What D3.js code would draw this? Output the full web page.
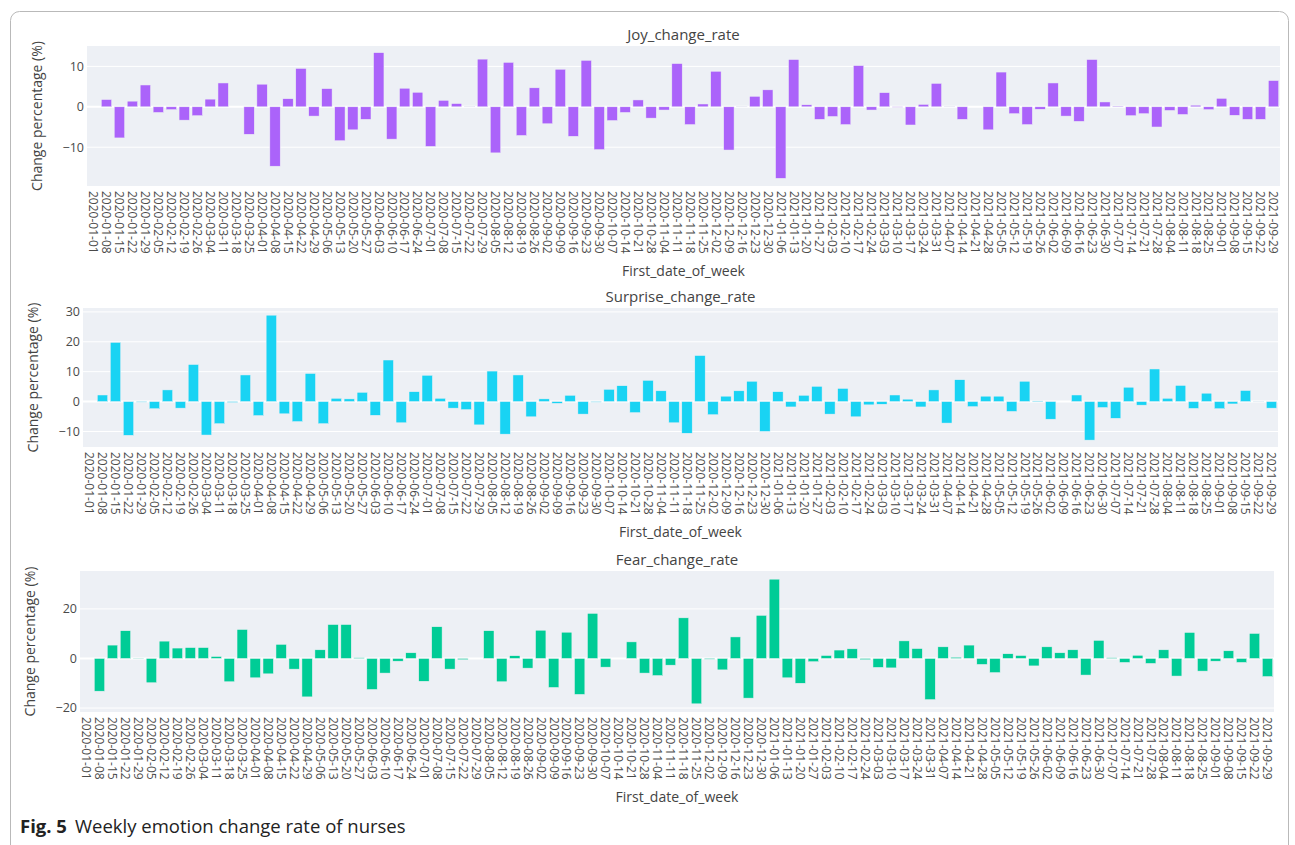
<!DOCTYPE html>
<html>
<head>
<meta charset="utf-8">
<script src="https://cdn.jsdelivr.net/npm/d3@7"></script>
<style>
  body { margin: 0; background: #fff; }
  text { font-family: "Open Sans", "Noto Sans", sans-serif; }
</style>
</head>
<body>
<svg id="chart" width="1295" height="845"></svg>
<script>
// weekly categories (first date of each week)
const weeks = [
  "2020-01-01","2020-01-08","2020-01-15","2020-01-22","2020-01-29","2020-02-05","2020-02-12","2020-02-19",
  "2020-02-26","2020-03-04","2020-03-11","2020-03-18","2020-03-25","2020-04-01","2020-04-08","2020-04-15",
  "2020-04-22","2020-04-29","2020-05-06","2020-05-13","2020-05-20","2020-05-27","2020-06-03","2020-06-10",
  "2020-06-17","2020-06-24","2020-07-01","2020-07-08","2020-07-15","2020-07-22","2020-07-29","2020-08-05",
  "2020-08-12","2020-08-19","2020-08-26","2020-09-02","2020-09-09","2020-09-16","2020-09-23","2020-09-30",
  "2020-10-07","2020-10-14","2020-10-21","2020-10-28","2020-11-04","2020-11-11","2020-11-18","2020-11-25",
  "2020-12-02","2020-12-09","2020-12-16","2020-12-23","2020-12-30","2021-01-06","2021-01-13","2021-01-20",
  "2021-01-27","2021-02-03","2021-02-10","2021-02-17","2021-02-24","2021-03-03","2021-03-10","2021-03-17",
  "2021-03-24","2021-03-31","2021-04-07","2021-04-14","2021-04-21","2021-04-28","2021-05-05","2021-05-12",
  "2021-05-19","2021-05-26","2021-06-02","2021-06-09","2021-06-16","2021-06-23","2021-06-30","2021-07-07",
  "2021-07-14","2021-07-21","2021-07-28","2021-08-04","2021-08-11","2021-08-18","2021-08-25","2021-09-01",
  "2021-09-08","2021-09-15","2021-09-22","2021-09-29"
];

const joy = [
  0, 1.8, -7.7, 1.4, 5.4, -1.4, -0.7, -3.3, -2.2, 1.9,
  5.9, 0, -6.8, 5.6, -14.7, 2.0, 9.5, -2.3, 4.5, -8.4,
  -5.7, -3.1, 13.4, -8.0, 4.6, 3.6, -9.8, 1.6, 0.8, 0.1,
  11.8, -11.4, 11.0, -7.1, 4.7, -4.2, 9.3, -7.3, 11.5, -10.6,
  -3.4, -1.4, 1.7, -2.8, -0.8, 10.7, -4.4, 0.7, 8.8, -10.7,
  0.1, 2.6, 4.2, -17.7, 11.7, 0.5, -3.1, -2.4, -4.4, 10.2,
  -0.8, 3.5, -0.1, -4.5, 0.6, 5.8, 0.1, -3.1, 0, -5.7,
  8.6, -1.7, -4.4, -0.6, 5.9, -2.3, -3.6, 11.7, 1.2, 0.2,
  -2.2, -1.7, -5.0, -0.9, -1.9, 0.4, -0.7, 2.1, -2.1, -3.1,
  -3.1, 6.5
];

const surprise = [
  0, 2.2, 19.8, -11.3, -0.2, -2.4, 3.9, -2.2, 12.4, -11.2,
  -7.4, -0.3, 8.9, -4.7, 28.9, -4.1, -6.7, 9.4, -7.4, 1.1,
  0.9, 3.1, -4.6, 13.9, -7.1, 3.3, 8.8, 1.1, -2.2, -2.7,
  -7.8, 10.2, -10.9, 8.9, -5.1, 0.9, -0.6, 2.1, -4.2, -0.2,
  4.1, 5.3, -3.7, 7.1, 3.6, -7.1, -10.6, 15.4, -4.4, 1.8,
  3.6, 6.8, -10.0, 3.3, -1.8, 2.1, 5.1, -4.2, 4.4, -5.1,
  -1.1, -0.9, 2.2, 0.8, -1.8, 3.9, -7.2, 7.3, -1.7, 1.8,
  1.8, -3.3, 6.8, 0.2, -5.9, 0, 2.2, -12.9, -2.0, -5.6,
  4.8, -1.2, 10.9, 1.1, 5.4, -2.3, 2.8, -2.4, -0.8, 3.7,
  -0.1, -2.2
];

const fear = [
  0, -13.2, 5.4, 11.2, 0.1, -9.8, 7.0, 4.2, 4.4, 4.4,
  0.8, -9.4, 11.7, -7.8, -6.2, 5.7, -4.3, -15.5, 3.5, 13.7,
  13.7, 0.3, -12.5, -5.9, -1.1, 2.3, -9.2, 12.8, -4.3, -0.5,
  0, 11.2, -9.4, 1.1, -3.9, 11.4, -11.7, 10.6, -14.5, 18.2,
  -3.5, 0, 6.7, -5.9, -6.9, -2.7, 16.4, -18.3, -0.3, -4.6,
  8.7, -16.0, 17.4, 32.0, -7.8, -10.0, -1.3, 1.2, 3.4, 3.9,
  -0.5, -3.6, -3.8, 7.1, 4.0, -16.6, 4.7, 0.5, 5.4, -2.4,
  -5.7, 1.9, 1.2, -3.0, 4.7, 2.3, 3.5, -6.7, 7.3, 0.3,
  -1.6, 1.3, -2.0, 3.5, -7.1, 10.5, -5.1, -1.1, 3.1, -1.6,
  10.1, -7.3
];

const joyTicks = [-10, 0, 10];
const surpriseTicks = [-10, 0, 10, 20, 30];
const fearTicks = [-20, 0, 20];

const plotBg = "#edf0f5";

const svg = d3.select("#chart");

// outer frame of the figure
svg.append("rect")
  .attr("x", 10.5).attr("y", 11.5)
  .attr("width", 1278).attr("height", 860)
  .attr("rx", 9)
  .attr("fill", "none")
  .attr("stroke", "#b9b9b9");

const panels = [
  { title: "Joy_change_rate", values: joy, ticks: joyTicks, color: "#AB63FA",
    left: 87, right: 1280, top: 46, bottom: 186, domain: [-19.6, 15.05], titleY: 40 },
  { title: "Surprise_change_rate", values: surprise, ticks: surpriseTicks, color: "#19D3F3",
    left: 83, right: 1278, top: 308, bottom: 447, domain: [-15.2, 31.3], titleY: 302 },
  { title: "Fear_change_rate", values: fear, ticks: fearTicks, color: "#00CC96",
    left: 80, right: 1274, top: 571, bottom: 712, domain: [-21.6, 35.3], titleY: 565 }
];

panels.forEach(drawPanel);

function drawPanel(p) {
  const x = d3.scaleBand()
    .domain(weeks)
    .range([p.left, p.right])
    .paddingInner(0.2)
    .paddingOuter(0.1);

  const y = d3.scaleLinear()
    .domain(p.domain)
    .range([p.bottom, p.top]);

  const g = svg.append("g");

  g.append("rect")
    .attr("x", p.left).attr("y", p.top)
    .attr("width", p.right - p.left).attr("height", p.bottom - p.top)
    .attr("fill", plotBg);

  // gridlines
  g.append("g")
    .selectAll("line")
    .data(p.ticks)
    .join("line")
    .attr("x1", p.left).attr("x2", p.right)
    .attr("y1", d => y(d)).attr("y2", d => y(d))
    .attr("stroke", "#fff")
    .attr("stroke-width", d => d === 0 ? 2 : 1);

  // bars
  g.append("g")
    .selectAll("rect")
    .data(p.values)
    .join("rect")
    .attr("x", (d, i) => x(weeks[i]))
    .attr("width", x.bandwidth())
    .attr("y", d => y(Math.max(0, d)))
    .attr("height", d => Math.abs(y(d) - y(0)))
    .attr("fill", p.color)
    .attr("stroke", plotBg)
    .attr("stroke-width", 0.5);

  // y tick labels
  g.append("g")
    .attr("font-size", 12.5)
    .attr("fill", "#4a4a4a")
    .attr("text-anchor", "end")
    .selectAll("text")
    .data(p.ticks)
    .join("text")
    .attr("x", p.left - 3)
    .attr("y", d => y(d))
    .attr("dy", "0.35em")
    .text(d => d < 0 ? "\u2212" + Math.abs(d) : d);

  // x tick labels, rotated
  g.append("g")
    .attr("font-size", 12)
    .attr("fill", "#4a4a4a")
    .selectAll("text")
    .data(weeks)
    .join("text")
    .attr("transform", d => `translate(${x(d) + x.bandwidth() / 2},${p.bottom + 5}) rotate(90)`)
    .attr("dy", "0.35em")
    .text(d => d);

  // titles
  const cx = (p.left + p.right) / 2;
  g.append("text")
    .attr("x", cx).attr("y", p.titleY)
    .attr("text-anchor", "middle")
    .attr("font-size", 15)
    .attr("fill", "#444")
    .text(p.title);

  g.append("text")
    .attr("x", cx).attr("y", p.bottom + 90)
    .attr("text-anchor", "middle")
    .attr("font-size", 14)
    .attr("fill", "#444")
    .text("First_date_of_week");

  g.append("text")
    .attr("transform", `translate(${p.left - 45},${(p.top + p.bottom) / 2}) rotate(-90)`)
    .attr("text-anchor", "middle")
    .attr("font-size", 14)
    .attr("fill", "#444")
    .text("Change percentage (%)");
}

// caption
const cap = svg.append("text")
  .attr("x", 20).attr("y", 833)
  .attr("font-size", 18.5)
  .attr("fill", "#222");
cap.append("tspan").attr("font-weight", "bold").text("Fig. 5");
cap.append("tspan").attr("dx", 8).text("Weekly emotion change rate of nurses");
</script>
</body>
</html>
